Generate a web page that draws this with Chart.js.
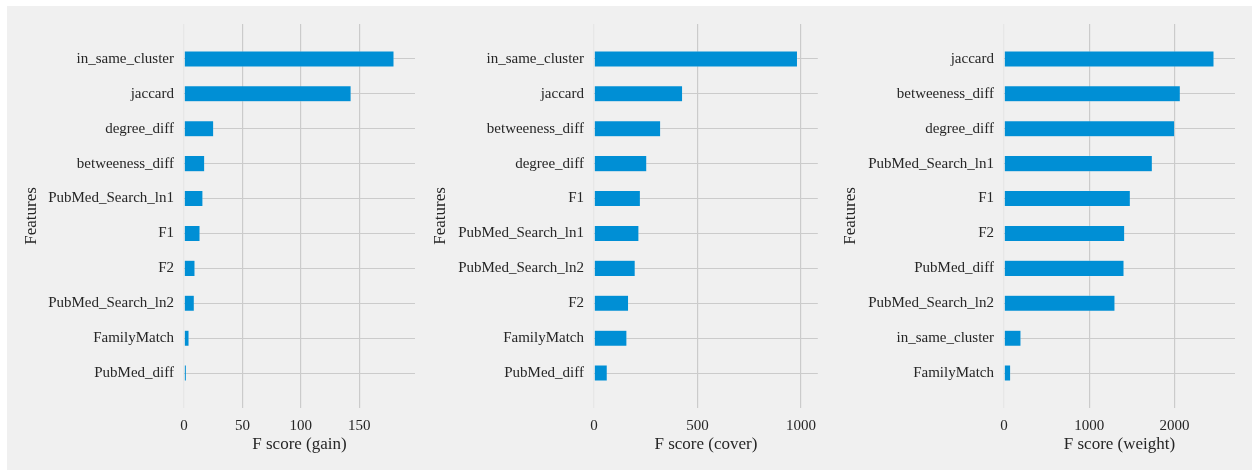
<!DOCTYPE html>
<html>
<head>
<meta charset="utf-8">
<title>Feature importance</title>
<script src="https://cdn.jsdelivr.net/npm/chart.js@4.4.1/dist/chart.umd.min.js"></script>
<style>
    html, body { margin: 0; padding: 0; background: #f0f0f0; overflow: hidden; width: 100%; height: 100%; }
    /* white margin on the left and top edges of the figure */
    #marginLeft { position: fixed; left: 0; top: 0; width: 7px; height: 100%; background: #ffffff; }
    #marginTop { position: fixed; left: 0; top: 0; width: 100%; height: 6px; background: #ffffff; }
    canvas { position: absolute; top: 0; }
</style>
</head>
<body>
<div id="marginLeft"></div>
<div id="marginTop"></div>
<canvas id="gainChart" width="408" height="470" style="left:7px"></canvas>
<canvas id="coverChart" width="405" height="470" style="left:420px"></canvas>
<canvas id="weightChart" width="405" height="470" style="left:830px"></canvas>

<script>
// importance by gain
const gainFeatures = ['in_same_cluster', 'jaccard', 'degree_diff', 'betweeness_diff', 'PubMed_Search_ln1',
    'F1', 'F2', 'PubMed_Search_ln2', 'FamilyMatch', 'PubMed_diff'];
const gainScores = [179.7, 143.0, 25.4, 17.7, 16.2, 13.7, 9.4, 8.8, 4.3, 2.0];
const gainTicks = [0, 50, 100, 150];

// importance by cover
const coverFeatures = ['in_same_cluster', 'jaccard', 'betweeness_diff', 'degree_diff', 'F1',
    'PubMed_Search_ln1', 'PubMed_Search_ln2', 'F2', 'FamilyMatch', 'PubMed_diff'];
const coverScores = [983, 428, 322, 255, 224, 217, 199, 167, 159, 64];
const coverTicks = [0, 500, 1000];

// importance by weight
const weightFeatures = ['jaccard', 'betweeness_diff', 'degree_diff', 'PubMed_Search_ln1', 'F1',
    'F2', 'PubMed_diff', 'PubMed_Search_ln2', 'in_same_cluster', 'FamilyMatch'];
const weightScores = [2462, 2067, 2001, 1739, 1481, 1415, 1407, 1301, 199, 78];
const weightTicks = [0, 1000, 2000];

const FONT = 'Liberation Serif, Times New Roman, serif';
const TEXT = '#262626';
const GRID = '#cbcbcb';
const BAR = '#008fd5';

Chart.defaults.font.family = FONT;
Chart.defaults.color = TEXT;

drawImportance('gainChart', gainFeatures, gainScores, gainTicks, 'F score (gain)', 177, 14);
drawImportance('coverChart', coverFeatures, coverScores, coverTicks, 'F score (cover)', 174, 10.5);
drawImportance('weightChart', weightFeatures, weightScores, weightTicks, 'F score (weight)', 174, 10);

function drawImportance(id, features, scores, ticks, xTitle, axisWidth, titlePad) {
    // one empty slot above and below, like ylim(-1, n)
    const labels = [''].concat(features, ['']);
    const values = [null].concat(scores, [null]);
    const xMax = Math.max.apply(null, scores) * 1.1;

    const ctx = document.getElementById(id).getContext('2d');
    new Chart(ctx, {
        type: 'bar',
        data: {
            labels: labels,
            datasets: [{
                data: values,
                backgroundColor: BAR,
                borderColor: 'rgba(240, 240, 240, 0.6)',
                borderWidth: 0.5,
                barPercentage: 0.46,
                categoryPercentage: 1
            }]
        },
        options: {
            indexAxis: 'y',
            responsive: false,
            animation: false,
            devicePixelRatio: 1,
            layout: { padding: { top: 24, right: 0, bottom: 0, left: 0 } },
            plugins: {
                legend: { display: false },
                tooltip: { enabled: false }
            },
            scales: {
                x: {
                    type: 'linear',
                    min: 0,
                    max: xMax,
                    afterBuildTicks: (scale) => {
                        scale.ticks = ticks.map(v => ({ value: v }));
                    },
                    afterFit: (scale) => { scale.height = 62; },
                    border: { display: false },
                    grid: {
                        drawTicks: false,
                        lineWidth: 1.2,
                        color: (c) => (c.tick && c.tick.value === 0) ? 'rgba(203,203,203,0.25)' : GRID
                    },
                    ticks: {
                        padding: 9,
                        font: { size: 15 },
                        maxRotation: 0,
                        callback: (v) => v
                    },
                    title: {
                        display: true,
                        text: xTitle,
                        font: { size: 17 },
                        padding: { top: 0, bottom: 15 }
                    }
                },
                y: {
                    type: 'category',
                    offset: false,
                    afterFit: (scale) => { scale.width = axisWidth; },
                    border: { display: false },
                    grid: {
                        offset: false,
                        drawTicks: false,
                        lineWidth: 1,
                        color: (c) => (c.index === 0 || c.index === labels.length - 1) ? 'rgba(0,0,0,0)' : GRID
                    },
                    ticks: {
                        padding: 10,
                        font: { size: 15 },
                        autoSkip: false
                    },
                    title: {
                        display: true,
                        text: 'Features',
                        font: { size: 17 },
                        padding: { top: titlePad, bottom: 0 }
                    }
                }
            }
        }
    });
}
</script>
</body>
</html>
